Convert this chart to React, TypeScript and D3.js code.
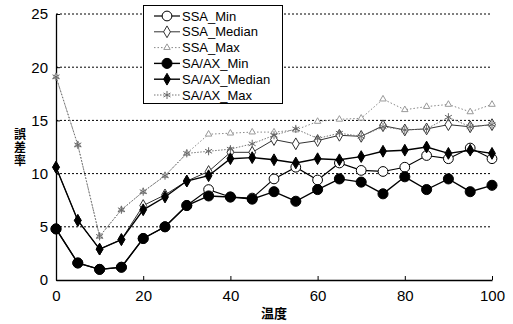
// 误差率 vs 温度 折线图
import React, { useRef, useEffect } from 'react';
import * as d3 from 'd3';

interface SeriesStyle {
  name: string;
  values: number[];
  stroke: string;
  strokeWidth: number;
  dash: string | null;
  symbol: d3.SymbolType;
  size: number;
  fill: string;
  markStroke: string;
}

const temps: number[] = [0, 5, 10, 15, 20, 25, 30, 35, 40, 45, 50, 55, 60, 65, 70, 75, 80, 85, 90, 95, 100];

const ssaMin: number[] = [4.8, 1.6, 1.0, 1.2, 3.9, 5.0, 7.0, 8.5, 7.8, 7.7, 9.5, 10.6, 9.4, 11.0, 10.3, 10.2, 10.6, 11.7, 11.4, 12.4, 11.4];
const ssaMedian: number[] = [10.6, 5.6, 2.9, 3.8, 7.0, 8.0, 9.3, 10.2, 12.0, 12.0, 13.2, 12.8, 13.1, 13.6, 13.5, 14.5, 14.1, 14.2, 14.6, 14.4, 14.6];
const ssaMax: number[] = [19.1, 12.7, 4.1, 6.6, 8.3, 9.8, 11.9, 13.7, 13.8, 13.9, 13.9, 14.1, 14.9, 15.1, 15.2, 17.0, 16.0, 16.3, 16.5, 15.8, 16.5];
const saMin: number[] = [4.8, 1.6, 1.0, 1.2, 3.9, 5.0, 7.0, 7.9, 7.8, 7.6, 8.3, 7.4, 8.5, 9.5, 9.2, 8.1, 9.7, 8.5, 9.5, 8.3, 8.9];
const saMedian: number[] = [10.6, 5.6, 2.9, 3.8, 6.6, 7.8, 9.3, 9.8, 11.4, 11.5, 11.3, 11.0, 11.4, 11.3, 11.6, 12.1, 12.2, 12.5, 11.9, 12.2, 11.9];
const saMax: number[] = [19.1, 12.7, 4.1, 6.6, 8.3, 9.8, 11.9, 12.1, 12.3, 12.8, 13.6, 14.2, 13.3, 13.8, 13.5, 14.4, 14.1, 14.2, 15.3, 14.4, 14.6];

const xTicks: number[] = [0, 20, 40, 60, 80, 100];
const yTicks: number[] = [0, 5, 10, 15, 20, 25];

const series: SeriesStyle[] = [
  { name: 'SSA_Min', values: ssaMin, stroke: '#000', strokeWidth: 1.2, dash: null, symbol: d3.symbolCircle, size: 75, fill: '#fff', markStroke: '#000' },
  { name: 'SSA_Median', values: ssaMedian, stroke: '#333', strokeWidth: 1, dash: null, symbol: d3.symbolDiamond, size: 40, fill: '#fff', markStroke: '#333' },
  { name: 'SSA_Max', values: ssaMax, stroke: '#888', strokeWidth: 1, dash: '1.5,2', symbol: d3.symbolTriangle, size: 18, fill: '#fff', markStroke: '#999' },
  { name: 'SA/AX_Min', values: saMin, stroke: '#000', strokeWidth: 1.4, dash: null, symbol: d3.symbolCircle, size: 80, fill: '#000', markStroke: '#000' },
  { name: 'SA/AX_Median', values: saMedian, stroke: '#000', strokeWidth: 1.4, dash: null, symbol: d3.symbolDiamond, size: 40, fill: '#000', markStroke: '#000' },
  { name: 'SA/AX_Max', values: saMax, stroke: '#777', strokeWidth: 1, dash: '1.5,1.5', symbol: d3.symbolAsterisk, size: 45, fill: 'none', markStroke: '#666' },
];

const width = 513;
const height = 324;
const marginLeft = 56;
const marginRight = 21;
const marginTop = 14;
const marginBottom = 44;

const App: React.FC = () => {
  const svgRef = useRef<SVGSVGElement>(null);

  useEffect(() => {
    if (!svgRef.current) return;
    const svg = d3.select(svgRef.current);
    svg.selectAll('*').remove();

    const x = d3.scaleLinear().domain([0, 100]).range([marginLeft, width - marginRight]);
    const y = d3.scaleLinear().domain([0, 25]).range([height - marginBottom, marginTop]);

    // 网格线（虚线）
    svg.append('g')
      .selectAll('line')
      .data(yTicks.filter((d) => d > 0))
      .join('line')
      .attr('x1', x(0))
      .attr('x2', x(100))
      .attr('y1', (d) => y(d))
      .attr('y2', (d) => y(d))
      .attr('stroke', '#000')
      .attr('stroke-width', 1)
      .attr('stroke-dasharray', '2,2');

    // 坐标轴
    const xAxis = svg.append('g')
      .attr('transform', `translate(0,${y(0)})`)
      .call(d3.axisBottom(x).tickValues(xTicks).tickSizeInner(-4).tickSizeOuter(0).tickPadding(10));
    const yAxis = svg.append('g')
      .attr('transform', `translate(${x(0)},0)`)
      .call(d3.axisLeft(y).tickValues(yTicks).tickSizeInner(-4).tickSizeOuter(0).tickPadding(8));
    [xAxis, yAxis].forEach((g) => {
      g.select('.domain').attr('stroke', '#000').attr('stroke-width', 1.3);
      g.selectAll('.tick line').attr('stroke', '#000');
      g.selectAll('.tick text')
        .attr('font-family', 'Liberation Sans, Arial, sans-serif')
        .attr('font-size', 15)
        .attr('fill', '#000');
    });

    const line = d3.line<number>()
      .x((_, i) => x(temps[i]))
      .y((d) => y(d));

    // SSA 先画，SA/AX 在上层
    series.forEach((s) => {
      const g = svg.append('g');
      g.append('path')
        .attr('d', line(s.values))
        .attr('fill', 'none')
        .attr('stroke', s.stroke)
        .attr('stroke-width', s.strokeWidth)
        .attr('stroke-dasharray', s.dash);
      g.selectAll('path.mark')
        .data(s.values)
        .join('path')
        .attr('class', 'mark')
        .attr('transform', (d, i) => `translate(${x(temps[i])},${y(d)})`)
        .attr('d', d3.symbol().type(s.symbol).size(s.size)())
        .attr('fill', s.fill)
        .attr('stroke', s.markStroke)
        .attr('stroke-width', 1);
    });

    // 图例
    const legend = svg.append('g');
    legend.append('rect')
      .attr('x', 143.5)
      .attr('y', 5.5)
      .attr('width', 139)
      .attr('height', 98)
      .attr('fill', '#fff')
      .attr('stroke', '#000')
      .attr('stroke-width', 1);
    series.forEach((s, i) => {
      const cy = 16 + i * 15.8;
      legend.append('line')
        .attr('x1', 154).attr('x2', 180)
        .attr('y1', cy).attr('y2', cy)
        .attr('stroke', s.stroke)
        .attr('stroke-width', s.strokeWidth)
        .attr('stroke-dasharray', s.dash);
      legend.append('path')
        .attr('transform', `translate(167,${cy})`)
        .attr('d', d3.symbol().type(s.symbol).size(s.size)())
        .attr('fill', s.fill)
        .attr('stroke', s.markStroke);
      legend.append('text')
        .attr('x', 182)
        .attr('y', cy + 4.5)
        .attr('font-family', 'Liberation Sans, Arial, sans-serif')
        .attr('font-size', 13)
        .text(s.name);
    });

    // 轴标题
    svg.append('text')
      .attr('x', (x(0) + x(100)) / 2)
      .attr('y', 318)
      .attr('text-anchor', 'middle')
      .attr('font-family', 'Noto Sans CJK JP, sans-serif')
      .attr('font-weight', 'bold')
      .attr('font-size', 13)
      .text('温度');

    // 纵向排列的 y 轴标题
    svg.append('text')
      .attr('x', 20)
      .attr('y', 128)
      .attr('font-family', 'Noto Sans CJK JP, sans-serif')
      .attr('font-weight', 'bold')
      .attr('font-size', 12)
      .style('writing-mode', 'vertical-rl')
      .style('text-orientation', 'upright')
      .style('letter-spacing', '1px')
      .text('誤差率');
  }, []);

  return (
    <svg ref={svgRef} width={width} height={height} style={{ position: 'absolute', left: 0, top: 0, background: '#fff' }} />
  );
};

export default App;
